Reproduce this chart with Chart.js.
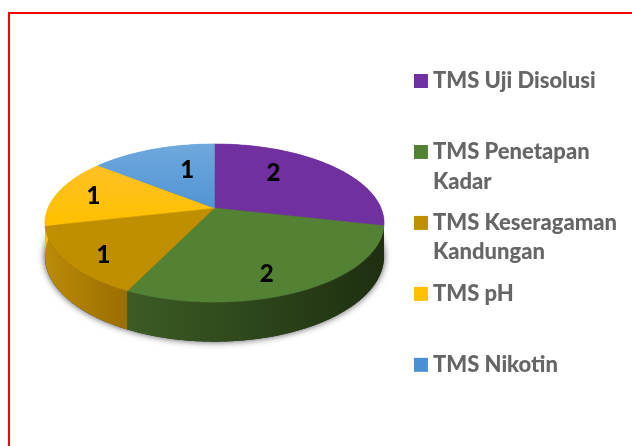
<!DOCTYPE html>
<html lang="en">

<head>
  <meta charset="UTF-8">
  <title>TMS</title>
  <script src="https://cdn.jsdelivr.net/npm/chart.js"></script>
  <style>
    html, body {
      margin: 0;
      background: #fff;
      overflow: hidden;
    }
    #frame {
      position: absolute;
      left: 8px;
      top: 12px;
      width: 700px;
      height: 600px;
      border: 2px solid #ff0000;
    }
    #tmsChart {
      position: absolute;
      left: 0;
      top: 0;
    }
  </style>
</head>

<body>
  <div id="frame"></div>
  <canvas id="tmsChart" width="632" height="446"></canvas>
  <script>
    // empty second line keeps the legend rows the same height
    const categories = [
      ['TMS Uji Disolusi', ''],
      ['TMS Penetapan', 'Kadar'],
      ['TMS Keseragaman', 'Kandungan'],
      ['TMS pH', ''],
      ['TMS Nikotin'],
    ];
    const values = [2, 2, 1, 1, 1];

    const faceTop = ['#7030a0', '#548235', '#bf8f00', '#fdc032', '#6fa8dc'];
    const faceBottom = ['#7030a0', '#548235', '#bf8f00', '#ffc000', '#4a90d2'];
    const wallLeft = ['#7030a0', '#3c5c25', '#bb8b08', '#ffc000', '#5b9bd5'];
    const wallRight = ['#7030a0', '#1e2f10', '#9a6e00', '#ffc000', '#5b9bd5'];

    // small moves of the value labels from their default spot in the slice
    const labelNudge = [[-14, -8], [4, 20], [-27, 17], [-26, -2], [12, 0]];

    const tilt = 0.458; // how flat the disc is
    const persp = 0.19; // near edge is bigger than far edge
    const depth = 32;

    // Disc point at angle a (from Chart.js arc) and fraction r of the radius
    function project(arc, a, r) {
      const u = r * Math.cos(a);
      const v = r * Math.sin(a);
      const w = 1 - persp * v;
      return {
        x: arc.x + arc.outerRadius * u / w,
        y: arc.y + arc.outerRadius * tilt * v / w,
        w: w,
      };
    }

    function rimPoints(arc, from, to) {
      const pts = [];
      const n = Math.max(2, Math.ceil((to - from) / 0.01));
      for (let i = 0; i <= n; i++) {
        pts.push(project(arc, from + (to - from) * i / n, 1));
      }
      return pts;
    }

    function tracePath(ctx, pts) {
      ctx.beginPath();
      pts.forEach((p, i) => i ? ctx.lineTo(p.x, p.y) : ctx.moveTo(p.x, p.y));
      ctx.closePath();
    }

    const pie3d = {
      id: 'pie3d',
      beforeDatasetDraw(chart, args) {
        const ctx = chart.ctx;
        const arcs = args.meta.data;
        const first = arcs[0];

        const lower = (p) => ({ x: p.x, y: p.y + depth / p.w });

        // soft shadow under the disc
        ctx.save();
        ctx.shadowColor = 'rgba(0, 0, 0, 0.7)';
        ctx.shadowBlur = 7;
        ctx.fillStyle = '#333';
        tracePath(ctx, rimPoints(first, 0, Math.PI * 2).map(lower));
        ctx.fill();
        ctx.restore();

        // side walls
        arcs.forEach((arc, i) => {
          const rim = rimPoints(arc, arc.startAngle, arc.endAngle);
          const xs = rim.map((p) => p.x);
          const grad = ctx.createLinearGradient(Math.min(...xs), 0, Math.max(...xs), 0);
          grad.addColorStop(0, wallLeft[i]);
          grad.addColorStop(1, wallRight[i]);
          tracePath(ctx, rim.concat(rim.map(lower).reverse()));
          ctx.fillStyle = grad;
          ctx.fill();
        });

        // top faces
        const top = project(first, -Math.PI / 2, 1).y;
        const bottom = project(first, Math.PI / 2, 1).y;
        arcs.forEach((arc, i) => {
          const grad = ctx.createLinearGradient(0, top, 0, (top + bottom) / 2);
          grad.addColorStop(0, faceTop[i]);
          grad.addColorStop(1, faceBottom[i]);
          tracePath(ctx, [{ x: arc.x, y: arc.y }].concat(rimPoints(arc, arc.startAngle, arc.endAngle)));
          ctx.fillStyle = grad;
          ctx.strokeStyle = grad;
          ctx.lineWidth = 0.5;
          ctx.fill();
          ctx.stroke();
        });

        // value labels
        ctx.font = '900 24px Lato';
        ctx.fillStyle = '#000';
        ctx.textAlign = 'center';
        ctx.textBaseline = 'middle';
        arcs.forEach((arc, i) => {
          const p = project(arc, (arc.startAngle + arc.endAngle) / 2, 0.6);
          ctx.fillText(values[i], p.x + labelNudge[i][0], p.y + labelNudge[i][1]);
        });

        return false; // the flat arcs are replaced by the above
      },
    };

    new Chart(document.getElementById('tmsChart'), {
      type: 'pie',
      data: {
        labels: categories,
        datasets: [{
          data: values,
          backgroundColor: faceBottom,
          clip: false,
        }],
      },
      options: {
        responsive: false,
        animation: false,
        radius: 166.5,
        layout: {
          // negative top: puts the middle of the area at the disc centre and leaves the legend room
          padding: { left: 21, top: -60, right: 5, bottom: 30 },
        },
        plugins: {
          tooltip: { enabled: false },
          legend: {
            position: 'right',
            align: 'start',
            // blank title only pushes the legend rows down
            title: { display: true, text: ' ', padding: { top: 0, bottom: 103.6 } },
            labels: {
              boxWidth: 2,
              boxHeight: 2,
              padding: 12,
              color: '#595959',
              font: { family: 'Lato', size: 22, weight: '900', lineHeight: 1.34 },
              // thick outline makes the 14px square, the thin box keeps the text close to it
              generateLabels: (chart) => categories.map((text, i) => ({
                text: text,
                fillStyle: faceBottom[i],
                strokeStyle: faceBottom[i],
                lineWidth: 12,
                index: i,
              })),
            },
          },
        },
      },
      plugins: [pie3d],
    });
  </script>
</body>

</html>
